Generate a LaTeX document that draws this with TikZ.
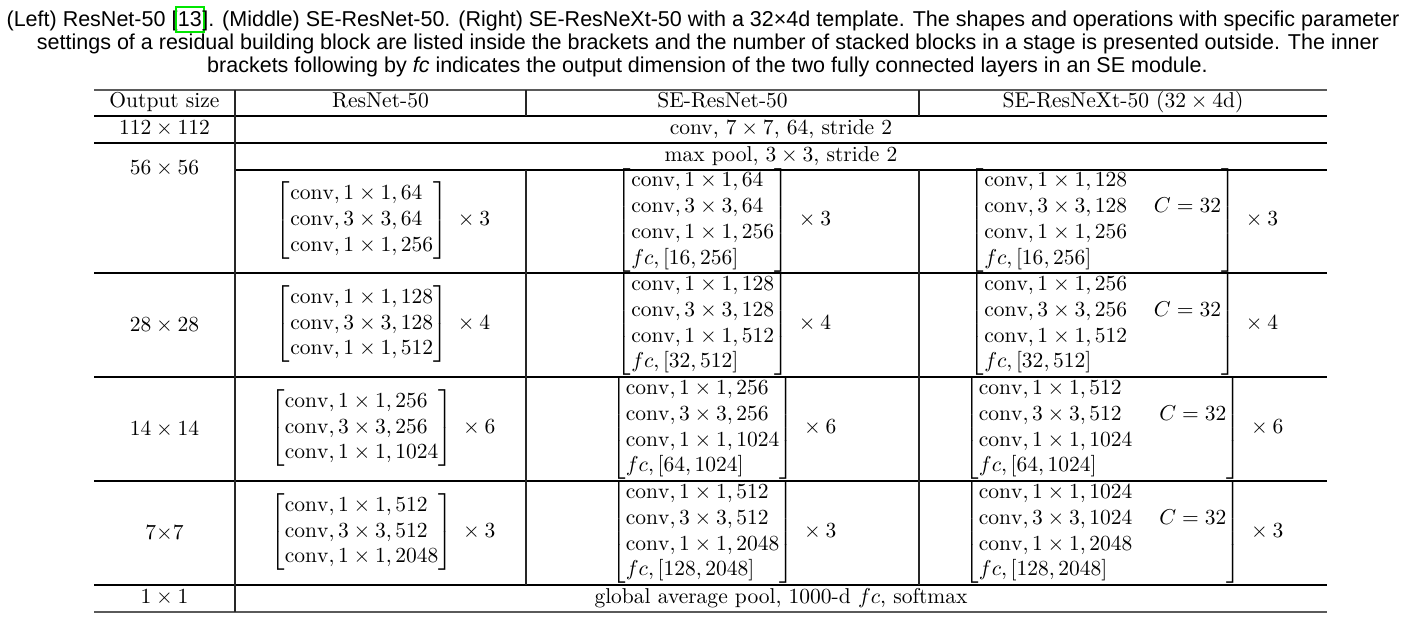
\documentclass[tikz,border=0pt]{standalone}
\usepackage{amsmath}
\usepackage{fontspec}
\newfontfamily\capfont{Liberation Sans}
\definecolor{linkgreen}{RGB}{0,230,0}
\definecolor{rulegray}{RGB}{90,90,90}
\newcommand\citebox[1]{{\setlength\fboxsep{0.5pt}\setlength\fboxrule{0.9pt}\color{linkgreen}\fbox{\color{black}\rule[-1.8pt]{0pt}{9.8pt}#1}}}
\newcommand\blk[2]{$\left[\begin{array}{@{}l@{}}#1\end{array}\right]\hspace{2.6pt}\times #2$}
\newcommand\blkc[2]{$\left[\begin{array}{@{}l@{\hspace{12.5pt}}c@{}}#1\end{array}\right]\hspace{2.6pt}\times #2$}
\newcommand\cv[3]{\mathrm{conv}, #1\times#1, #2#3}
\tikzset{
  captext/.style={font=\capfont\fontsize{10pt}{11pt}\selectfont, inner sep=0pt, anchor=base},
  txt/.style={font=\fontsize{10pt}{12pt}\selectfont, inner sep=0pt},
  btxt/.style={txt, anchor=base},
  thickrule/.style={line width=0.85pt, draw=rulegray},
  thinrule/.style={line width=0.55pt, draw=black},
  vrule/.style={line width=0.55pt, draw=black!85}
}
\begin{document}
\begin{tikzpicture}[x=0.465pt,y=-0.465pt]
\useasboundingbox (0,0) rectangle (1411,626);
% caption
\node[captext] (cap1) at (703,26.5) {(Left) ResNet-50 [\kern-1.2pt\citebox{13}\kern-1.2pt]. (Middle) SE-ResNet-50. (Right) SE-ResNeXt-50 with a 32×4d template. The shapes and operations with specific parameter};
\node[captext] (cap2) at (708,49.5) {settings of a residual building block are listed inside the brackets and the number of stacked blocks in a stage is presented outside. The inner};
\node[captext] (cap3) at (707.5,72.5) {brackets following by \textit{fc} indicates the output dimension of the two fully connected layers in an SE module.};
% rules
\draw[thickrule] (94,90) -- (1327,90);
\draw[thinrule] (94,116) -- (1327,116);
\draw[thinrule] (94,143) -- (1327,143);
\draw[thinrule] (235,170) -- (1327,170);
\draw[thinrule] (94,273) -- (1327,273);
\draw[thinrule] (94,377) -- (1327,377);
\draw[thinrule] (94,481) -- (1327,481);
\draw[thinrule] (94,585) -- (1327,585);
\draw[thickrule] (94,612) -- (1327,612);
\draw[vrule] (235,90) -- (235,612);
\draw[vrule] (526,90) -- (526,116);
\draw[vrule] (919,90) -- (919,116);
\draw[vrule] (526,170) -- (526,585);
\draw[vrule] (919,170) -- (919,585);
% header
\node[btxt] (h0) at (164.5,107) {Output size};
\node[btxt] (h1) at (380.5,107) {ResNet-50};
\node[btxt] (h2) at (722.5,107) {SE-ResNet-50};
\node[btxt] (h3) at (1123,107) {SE-ResNeXt-50 ($32\times4$d)};
% first rows
\node[btxt] (o1) at (164.5,134) {$112\times112$};
\node[btxt] (c1) at (781,134) {conv, $7\times7$, 64, stride 2};
\node[btxt] (c2) at (781,161) {max pool, $3\times3$, stride 2};
\node[btxt] (o2) at (164.5,174) {$56\times56$};
% output sizes of stages
\node[txt] (o3) at (164.5,325) {$28\times28$};
\node[txt] (o4) at (164.5,429) {$14\times14$};
\node[txt] (o5) at (164.5,533) {$7{\times}7$};
\node[btxt] (o6) at (164.5,603) {$1\times1$};
\node[btxt] (c6) at (781,603) {global average pool, 1000-d $fc$, softmax};
% stage 1
\node[txt] (a1) at (383,220.5) {\blk{\cv{1}{64}{}\\ \cv{3}{64}{}\\ \cv{1}{256}{}}{3}};
\node[txt] (b1) at (724,220.5) {\blk{\cv{1}{64}{}\\ \cv{3}{64}{}\\ \cv{1}{256}{}\\ fc, [16, 256]}{3}};
\node[txt] (d1) at (1124,220.5) {\blkc{\cv{1}{128}{} & \\ \cv{3}{128}{} & C=32\\ \cv{1}{256}{} & \\ fc, [16, 256] & }{3}};
% stage 2
\node[txt] (a2) at (383,324) {\blk{\cv{1}{128}{}\\ \cv{3}{128}{}\\ \cv{1}{512}{}}{4}};
\node[txt] (b2) at (724,324) {\blk{\cv{1}{128}{}\\ \cv{3}{128}{}\\ \cv{1}{512}{}\\ fc, [32, 512]}{4}};
\node[txt] (d2) at (1124,324) {\blkc{\cv{1}{256}{} & \\ \cv{3}{256}{} & C=32\\ \cv{1}{512}{} & \\ fc, [32, 512] & }{4}};
% stage 3
\node[txt] (a3) at (383,428) {\blk{\cv{1}{256}{}\\ \cv{3}{256}{}\\ \cv{1}{1024}{}}{6}};
\node[txt] (b3) at (724,428) {\blk{\cv{1}{256}{}\\ \cv{3}{256}{}\\ \cv{1}{1024}{}\\ fc, [64, 1024]}{6}};
\node[txt] (d3) at (1124,428) {\blkc{\cv{1}{512}{} & \\ \cv{3}{512}{} & C=32\\ \cv{1}{1024}{} & \\ fc, [64, 1024] & }{6}};
% stage 4
\node[txt] (a4) at (383,532) {\blk{\cv{1}{512}{}\\ \cv{3}{512}{}\\ \cv{1}{2048}{}}{3}};
\node[txt] (b4) at (724,532) {\blk{\cv{1}{512}{}\\ \cv{3}{512}{}\\ \cv{1}{2048}{}\\ fc, [128, 2048]}{3}};
\node[txt] (d4) at (1124,532) {\blkc{\cv{1}{1024}{} & \\ \cv{3}{1024}{} & C=32\\ \cv{1}{2048}{} & \\ fc, [128, 2048] & }{3}};
\end{tikzpicture}
\end{document}
